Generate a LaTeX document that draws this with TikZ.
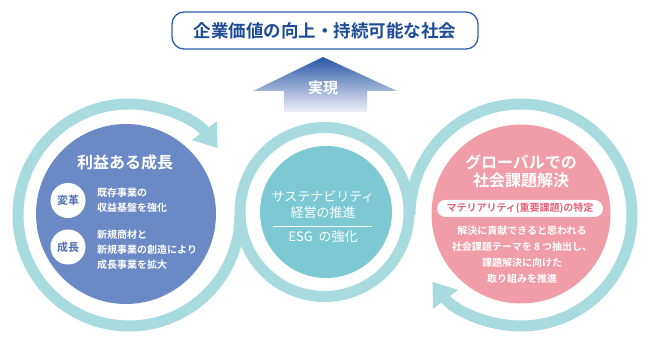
\documentclass[tikz,border=0pt]{standalone}
\usepackage{fontspec}
\setmainfont{Noto Sans CJK JP}[BoldFont={Noto Sans CJK JP Bold}]
\usetikzlibrary{arrows.meta}
\definecolor{ringc}{HTML}{A8DBE0}
\definecolor{bluec}{HTML}{6B8AC5}
\definecolor{tealc}{HTML}{7CC8D3}
\definecolor{pinkc}{HTML}{F19DA7}
\definecolor{titlec}{HTML}{1E4C96}
\definecolor{framec}{HTML}{2F60AE}
\definecolor{badgec}{HTML}{4C6DB1}
\definecolor{pilltext}{HTML}{E2637A}
\definecolor{arrtop}{HTML}{2857A5}
\definecolor{arrmid}{HTML}{7088C4}
\definecolor{arrbot}{HTML}{EEF0F8}
\tikzset{
  ring/.style={draw=ringc, line width=11pt},
  disc/.style={circle, inner sep=0pt, draw=none},
  head/.style={text=white, font=\bfseries\fontsize{16}{16}\selectfont, inner sep=0pt},
  body/.style={text=white, font=\bfseries\fontsize{10}{10}\selectfont, inner sep=0pt},
  midtext/.style={text=white, font=\fontsize{13}{13}\selectfont, inner sep=0pt},
  badge/.style={circle, fill=white, minimum size=35pt, inner sep=0pt, text=badgec, font=\bfseries\fontsize{11}{11}\selectfont},
}
\begin{document}
\begin{tikzpicture}[x=1pt,y=1pt]
\useasboundingbox (0,0) rectangle (648,347);
\fill[white] (0,0) rectangle (648,347);

% title box
\node[draw=framec, line width=1.3pt, rounded corners=12pt, minimum width=306pt, minimum height=37pt,
  text=titlec, font=\bfseries\fontsize{17.5}{17.5}\selectfont, inner sep=0pt] (title) at (325,316.5) {企業価値の向上・持続可能な社会};

% realisation arrow
\shade[top color=arrtop, middle color=arrmid, bottom color=arrbot]
  (323,290) -- (397,256) -- (367,256) -- (367,235) -- (284,235) -- (284,256) -- (253,256) -- cycle;
\node[text=white, font=\bfseries\fontsize{15}{15}\selectfont, inner sep=0pt] (jitsugen) at (323,259) {実現};

% rings
\draw[ring] (324.5,135) circle[radius=84.5];
\draw[ring, -{Triangle[length=22pt,width=30pt]}] (240,132) arc[start angle=0, end angle=-323, radius=111];
\draw[ring, -{Triangle[length=22pt,width=30pt]}] (410,132) arc[start angle=180, end angle=-143, radius=111];

% inner discs
\node[disc, fill=bluec, minimum size=180pt] (lc) at (126,133) {};
\node[disc, fill=tealc, minimum size=132pt] (mc) at (326,135) {};
\node[disc, fill=pinkc, minimum size=179pt] (rc) at (521,133) {};

% left disc content
\node[head] (lt) at (125,185) {利益ある成長};
\node[badge] (b1) at (68,146.5) {変革};
\node[badge] (b2) at (68,100) {成長};
\node[body, anchor=west] (l1) at (97,154) {既存事業の};
\node[body, anchor=west] (l2) at (97,139) {収益基盤を強化};
\node[body, anchor=west] (l3) at (97,112) {新規商材と};
\node[body, anchor=west] (l4) at (97,97) {新規事業の創造により};
\node[body, anchor=west] (l5) at (97,82) {成長事業を拡大};

% middle disc content
\node[midtext] (m1) at (323,150) {サステナビリティ};
\node[midtext] (m2) at (323,134) {経営の推進};
\coordinate (ma) at (273,121);
\coordinate (mb) at (372,121);
\draw[white, line width=0.9pt] (ma) -- (mb);
\node[midtext] (m3) at (323,110) {ESG\ \ の強化};

% right disc content
\node[head] (rt1) at (521,185) {グローバルでの};
\node[head] (rt2) at (521,167) {社会課題解決};
\node[fill=white, rounded corners=8.5pt, minimum width=166pt, minimum height=17pt, inner sep=0pt,
  text=pilltext, font=\bfseries\fontsize{10}{10}\selectfont] (pill) at (520,138.5) {マテリアリティ(重要課題)の特定};
\node[body] (r1) at (522,116) {解決に貢献できると思われる};
\node[body] (r2) at (522,100) {社会課題テーマを 8 つ抽出し、};
\node[body] (r3) at (522,84) {課題解決に向けた};
\node[body] (r4) at (522,68) {取り組みを推進};
\end{tikzpicture}
\end{document}
